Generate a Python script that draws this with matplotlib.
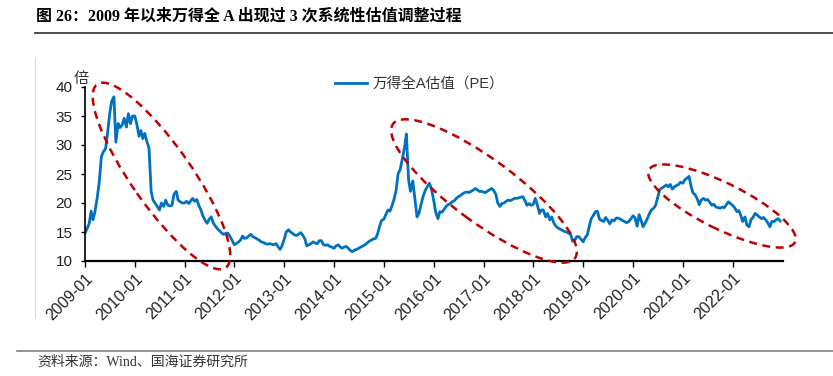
import numpy as np
import pandas as pd
import matplotlib
matplotlib.use("Agg")
import matplotlib.pyplot as plt
from matplotlib.patches import Ellipse
from matplotlib.lines import Line2D

plt.rcParams['font.family'] = ['Liberation Sans', 'Noto Sans CJK SC']
plt.rcParams['axes.unicode_minus'] = False

# PE of Wind All A (values on the 1st and 15th of each month)
pe_2009 = [14.8, 15.5, 16.5, 18.6, 17.1, 18.5, 21.0, 23.5, 28.0, 28.8, 29.4, 32.0,
           35.4, 37.5, 38.3, 30.5, 33.7, 33.0, 33.5, 34.6, 33.1, 35.4, 33.7, 35.0]
pe_2010 = [35.0, 33.7, 31.5, 32.5, 31.1, 32.0, 30.5, 29.5, 22.0, 20.5, 19.9, 19.4,
           18.8, 20.0, 19.4, 20.5, 19.6, 19.5, 19.6, 21.5, 22.0, 20.5, 20.2, 20.0]
pe_2011 = [20.0, 20.3, 19.9, 20.4, 20.8, 20.3, 20.6, 19.6, 18.8, 17.8, 17.0, 16.5,
           17.2, 17.6, 16.5, 16.0, 15.5, 15.2, 14.8, 14.6, 14.8, 14.8, 14.2, 13.6]
pe_2012 = [12.8, 13.0, 13.3, 13.6, 14.3, 13.9, 14.0, 14.3, 14.6, 14.2, 14.0, 13.8,
           13.6, 13.3, 13.2, 13.0, 12.9, 13.0, 12.9, 12.8, 13.0, 12.5, 12.0, 12.6]
pe_2013 = [13.8, 15.0, 15.4, 15.0, 14.8, 14.5, 14.4, 14.6, 14.9, 14.5, 13.8, 12.6,
           12.8, 13.0, 13.3, 13.1, 13.0, 13.5, 13.5, 12.8, 12.7, 12.8, 12.5, 12.4]
pe_2014 = [12.2, 12.6, 12.8, 12.4, 12.2, 12.4, 12.5, 12.2, 11.8, 11.6, 11.9, 12.0,
           12.2, 12.4, 12.6, 12.8, 13.1, 13.4, 13.6, 13.8, 13.9, 14.6, 16.0, 17.0]
pe_2015 = [17.2, 18.0, 18.8, 18.6, 19.5, 20.5, 22.2, 25.0, 25.8, 27.5, 29.5, 31.9,
           24.0, 22.0, 23.8, 21.0, 17.6, 18.2, 19.8, 21.1, 22.2, 22.8, 23.4, 22.5]
pe_2016 = [20.5, 18.5, 17.3, 18.5, 18.4, 18.8, 19.4, 19.7, 19.9, 20.2, 20.4, 20.8,
           21.1, 21.3, 21.6, 21.8, 21.9, 21.8, 22.0, 22.2, 22.5, 22.3, 22.0, 22.0]
pe_2017 = [21.9, 21.8, 22.1, 22.3, 22.5, 22.2, 21.5, 20.0, 19.4, 19.9, 20.0, 20.3,
           20.5, 20.4, 20.6, 20.8, 20.8, 20.9, 21.0, 21.1, 20.4, 19.6, 19.9, 19.6]
pe_2018 = [19.8, 20.8, 19.5, 18.2, 18.8, 18.8, 17.6, 18.2, 17.1, 17.6, 16.5, 16.0,
           15.7, 15.5, 15.3, 15.1, 15.0, 14.8, 14.6, 13.4, 13.6, 14.2, 14.2, 13.8]
pe_2019 = [13.3, 14.0, 14.5, 16.0, 17.3, 17.8, 18.5, 18.6, 17.2, 17.0, 16.8, 17.5,
           17.0, 16.4, 17.1, 16.9, 17.4, 17.4, 17.2, 17.0, 16.8, 16.6, 16.8, 17.2]
pe_2020 = [17.8, 17.5, 16.0, 18.0, 17.0, 15.9, 16.6, 17.3, 18.2, 18.8, 19.1, 19.6,
           21.0, 22.3, 22.6, 22.8, 23.1, 22.8, 23.2, 22.4, 22.8, 23.0, 23.2, 23.6]
pe_2021 = [23.4, 24.0, 24.3, 24.6, 23.0, 21.8, 21.4, 20.8, 19.7, 20.5, 20.8, 20.5,
           20.6, 20.2, 19.6, 19.8, 19.3, 19.2, 19.1, 19.3, 19.2, 19.7, 20.2, 19.9]
pe_2022 = [19.6, 19.2, 18.5, 18.7, 17.9, 16.8, 17.6, 16.2, 15.9, 17.1, 17.6, 18.2,
           17.9, 17.6, 17.3, 17.5, 17.1, 16.6, 15.9, 16.8, 16.8, 17.1, 17.3, 16.9]

years = list(range(2009, 2023))
tick_labels = [f"{y}-01" for y in years]
title = "图 26：2009 年以来万得全 A 出现过 3 次系统性估值调整过程"
series_name = "万得全A估值（PE）"
source = "资料来源：Wind、国海证券研究所"

pe = (pe_2009 + pe_2010 + pe_2011 + pe_2012 + pe_2013 + pe_2014 + pe_2015
      + pe_2016 + pe_2017 + pe_2018 + pe_2019 + pe_2020 + pe_2021 + pe_2022)
dates = pd.date_range("2009-01-01", periods=len(pe), freq="SMS")

W, H = 833, 376
fig = plt.figure(figsize=(W / 100, H / 100), dpi=100)
ax = fig.add_axes([85 / W, 1 - 261 / H, (783 - 85) / W, (261 - 87) / H])

ax.plot(dates, pe, color="#0070C0", lw=2.0, label=series_name)

ax.set_ylim(10, 40)
ax.set_yticks(np.arange(10, 41, 5))
ax.set_xlim(pd.Timestamp("2009-01-01"), pd.Timestamp("2023-01-05"))
ax.set_xticks([pd.Timestamp(f"{y}-01-01") for y in years])
ax.set_xticklabels(tick_labels, rotation=45, ha="right", rotation_mode="anchor")
for s in ["top", "right"]:
    ax.spines[s].set_visible(False)
ax.spines["left"].set_linewidth(1.2)
ax.spines["bottom"].set_linewidth(1.6)
ax.tick_params(axis="y", direction="out", length=3, width=1, labelsize=11, pad=6, colors="black")
ax.tick_params(axis="x", direction="out", length=4, width=1, labelsize=11.5, pad=3, colors="black")
for lab in ax.get_yticklabels() + ax.get_xticklabels():
    lab.set_color("#222222")

ax.legend(loc="center left", bbox_to_anchor=(335 / W, 1 - 84 / H), bbox_transform=fig.transFigure,
          frameon=False, fontsize=10.5, handlelength=2.2, handletextpad=0.4,
          borderpad=0, borderaxespad=0, labelcolor="#333333")

fig.text(81 / W, 1 - 78 / H, "倍", fontsize=11, ha="center", va="center", color="#333333",
         family=["Noto Sans CJK SC"])

# dashed ellipses, given in pixels of the figure
def px_ellipse(cx, cy, w, h, ang):
    e = Ellipse((cx / 100, (H - cy) / 100), w / 100, h / 100, angle=ang,
                transform=fig.dpi_scale_trans, fill=False, ec="#C00000",
                lw=1.8, ls=(0, (3.2, 2.2)), clip_on=False)
    fig.add_artist(e)

px_ellipse(161.5, 176, 224, 60, -55)
px_ellipse(484, 191, 226, 63, -36.4)
px_ellipse(722, 206, 163, 46, -26.3)

# title, frame lines and source
fig.text(36 / W, 1 - 16 / H, title, fontsize=11.5, fontweight="bold", va="center", ha="left",
         family=["Liberation Serif", "Noto Sans CJK SC"])
fig.add_artist(Line2D([35 / W, 1], [1 - 33 / H, 1 - 33 / H], color="#404040", lw=1.3))
fig.add_artist(Line2D([35 / W, 35 / W], [1 - 58 / H, 1 - 318 / H], color="#d9d9d9", lw=0.8))
fig.add_artist(Line2D([17 / W, 1], [1 - 351 / H, 1 - 351 / H], color="#808080", lw=1.2))
fig.text(37 / W, 1 - 362 / H, source, fontsize=10, va="center", ha="left", color="#333333",
         family=["Liberation Serif", "Noto Sans CJK SC"])

fig.savefig("out.png", dpi=100)
